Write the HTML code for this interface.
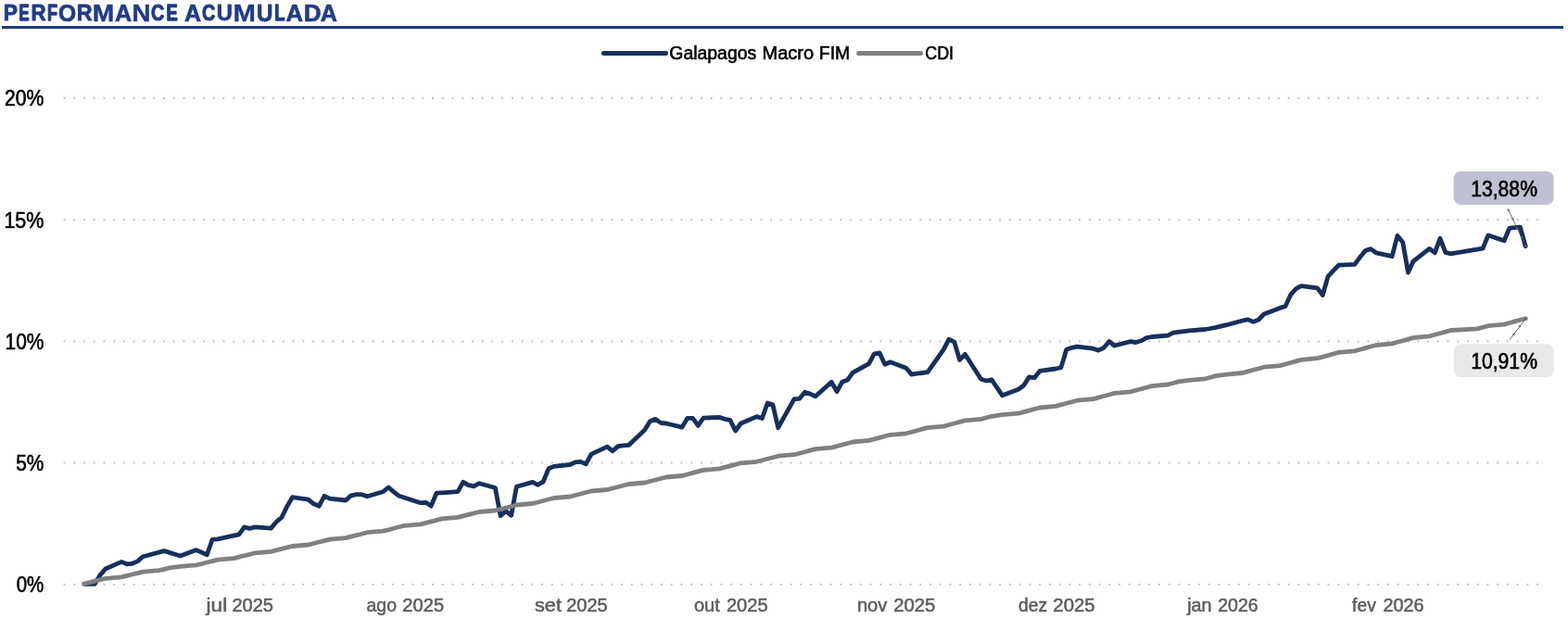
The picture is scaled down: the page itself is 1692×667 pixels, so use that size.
<!DOCTYPE html>
<html lang="pt-BR">
<head>
<meta charset="utf-8">
<title>PERFORMANCE ACUMULADA</title>
<style>
html,body{margin:0;padding:0;background:#fff;}
body{width:1692px;height:667px;overflow:hidden;}
svg{display:block;font-family:"Liberation Sans",sans-serif;}
</style>
</head>
<body>
<svg width="1692" height="667" viewBox="0 0 1692 667" role="img" aria-label="PERFORMANCE ACUMULADA - Galapagos Macro FIM, CDI">
<rect width="1692" height="667" fill="#fff"/>
<g id="title">
<text y="22.9" font-size="25.3" font-weight="bold" fill="#1f3c88" stroke="#1f3c88" stroke-linejoin="round" aria-label="PERFORMANCE ACUMULADA"><tspan x="3.77" y="22.45" font-size="24.72" stroke-width="0.89" textLength="15.24" lengthAdjust="spacingAndGlyphs">P</tspan><tspan x="20.51" y="22.25" font-size="24.13" stroke-width="1.30" textLength="11.08" lengthAdjust="spacingAndGlyphs">E</tspan><tspan x="33.48" y="22.43" font-size="24.65" stroke-width="0.94" textLength="16.07" lengthAdjust="spacingAndGlyphs">R</tspan><tspan x="50.92" y="22.25" font-size="24.13" stroke-width="1.30" textLength="11.02" lengthAdjust="spacingAndGlyphs">F</tspan><tspan x="62.90" y="22.53" font-size="24.95" stroke-width="0.74" textLength="19.12" lengthAdjust="spacingAndGlyphs">O</tspan><tspan x="82.76" y="22.48" font-size="24.79" stroke-width="0.85" textLength="16.86" lengthAdjust="spacingAndGlyphs">R</tspan><tspan x="99.74" y="22.69" font-size="25.42" stroke-width="0.41" textLength="23.51" lengthAdjust="spacingAndGlyphs">M</tspan><tspan x="124.05" y="22.56" font-size="25.03" stroke-width="0.68" textLength="18.19" lengthAdjust="spacingAndGlyphs">A</tspan><tspan x="142.40" y="22.67" font-size="25.35" stroke-width="0.46" textLength="20.00" lengthAdjust="spacingAndGlyphs">N</tspan><tspan x="162.97" y="22.31" font-size="24.31" stroke-width="1.17" textLength="14.22" lengthAdjust="spacingAndGlyphs">C</tspan><tspan x="179.40" y="22.25" font-size="24.14" stroke-width="1.29" textLength="12.24" lengthAdjust="spacingAndGlyphs">E</tspan> <tspan x="198.96" y="22.55" font-size="25.00" stroke-width="0.70" textLength="18.07" lengthAdjust="spacingAndGlyphs">A</tspan><tspan x="217.97" y="22.31" font-size="24.31" stroke-width="1.17" textLength="14.22" lengthAdjust="spacingAndGlyphs">C</tspan><tspan x="233.70" y="22.49" font-size="24.83" stroke-width="0.82" textLength="17.08" lengthAdjust="spacingAndGlyphs">U</tspan><tspan x="251.42" y="22.74" font-size="25.56" stroke-width="0.31" textLength="24.44" lengthAdjust="spacingAndGlyphs">M</tspan><tspan x="276.95" y="22.52" font-size="24.90" stroke-width="0.77" textLength="17.48" lengthAdjust="spacingAndGlyphs">U</tspan><tspan x="296.28" y="22.26" font-size="24.16" stroke-width="1.28" textLength="11.29" lengthAdjust="spacingAndGlyphs">L</tspan><tspan x="308.62" y="22.58" font-size="25.09" stroke-width="0.64" textLength="18.55" lengthAdjust="spacingAndGlyphs">A</tspan><tspan x="327.77" y="22.60" font-size="25.14" stroke-width="0.60" textLength="18.83" lengthAdjust="spacingAndGlyphs">D</tspan><tspan x="345.65" y="22.56" font-size="25.03" stroke-width="0.68" textLength="18.19" lengthAdjust="spacingAndGlyphs">A</tspan></text>
<rect x="2" y="28" width="1685" height="3" fill="#1d3a80"/>
</g>
<g id="legend">
<line x1="651.5" x2="718.5" y1="57.4" y2="57.4" stroke="#16305c" stroke-width="5" stroke-linecap="round"/>
<text y="63.8" font-size="20.5" fill="#000" stroke="#000" stroke-width="0.6" stroke-linejoin="round"><tspan x="722.35" textLength="93.86" lengthAdjust="spacingAndGlyphs">Galapagos</tspan> <tspan x="822.43" textLength="55.75" lengthAdjust="spacingAndGlyphs">Macro</tspan> <tspan x="883.79" textLength="33.40" lengthAdjust="spacingAndGlyphs">FIM</tspan></text>
<line x1="926.6" x2="993.5" y1="57.4" y2="57.4" stroke="#808080" stroke-width="5" stroke-linecap="round"/>
<text y="63.8" font-size="20.5" fill="#000" stroke="#000" stroke-width="0.6" stroke-linejoin="round"><tspan x="998.23" textLength="30.84" lengthAdjust="spacingAndGlyphs">CDI</tspan></text>
</g>
<g id="grid">
<line x1="69.57" x2="1659.6" y1="106.0" y2="106.0" stroke="#c2c2c2" stroke-width="2.3" stroke-linecap="round" stroke-dasharray="0.01 10.73"/>
<line x1="69.57" x2="1659.6" y1="237.2" y2="237.2" stroke="#c2c2c2" stroke-width="2.3" stroke-linecap="round" stroke-dasharray="0.01 10.73"/>
<line x1="69.57" x2="1659.6" y1="368.4" y2="368.4" stroke="#c2c2c2" stroke-width="2.3" stroke-linecap="round" stroke-dasharray="0.01 10.73"/>
<line x1="69.57" x2="1659.6" y1="499.6" y2="499.6" stroke="#c2c2c2" stroke-width="2.3" stroke-linecap="round" stroke-dasharray="0.01 10.73"/>
<line x1="69.57" x2="1659.6" y1="630.8" y2="630.8" stroke="#c2c2c2" stroke-width="2.3" stroke-linecap="round" stroke-dasharray="0.01 10.73"/>
</g>
<g id="yaxis">
<text y="114.05" font-size="23.0" fill="#000" stroke="#000" stroke-width="0.6" stroke-linejoin="round"><tspan x="4.99" textLength="42.40" lengthAdjust="spacingAndGlyphs">20%</tspan></text>
<text y="245.95" font-size="23.0" fill="#000" stroke="#000" stroke-width="0.6" stroke-linejoin="round"><tspan x="4.41" textLength="42.99" lengthAdjust="spacingAndGlyphs">15%</tspan></text>
<text y="377.0" font-size="23.0" fill="#000" stroke="#000" stroke-width="0.6" stroke-linejoin="round"><tspan x="5.56" textLength="41.83" lengthAdjust="spacingAndGlyphs">10%</tspan></text>
<text y="508.0" font-size="23.0" fill="#000" stroke="#000" stroke-width="0.6" stroke-linejoin="round"><tspan x="17.29" textLength="30.09" lengthAdjust="spacingAndGlyphs">5%</tspan></text>
<text y="639.0" font-size="23.0" fill="#000" stroke="#000" stroke-width="0.6" stroke-linejoin="round"><tspan x="17.69" textLength="29.68" lengthAdjust="spacingAndGlyphs">0%</tspan></text>
</g>
<g id="xaxis">
<text y="660.45" font-size="20.3" fill="#5e5d5b" stroke="#5e5d5b" stroke-width="0.55" stroke-linejoin="round"><tspan x="222.53" textLength="22.65" lengthAdjust="spacingAndGlyphs">jul</tspan> <tspan x="250.39" textLength="44.62" lengthAdjust="spacingAndGlyphs">2025</tspan></text>
<text y="660.45" font-size="20.3" fill="#5e5d5b" stroke="#5e5d5b" stroke-width="0.55" stroke-linejoin="round"><tspan x="395.51" textLength="32.47" lengthAdjust="spacingAndGlyphs">ago</tspan> <tspan x="434.28" textLength="44.83" lengthAdjust="spacingAndGlyphs">2025</tspan></text>
<text y="660.45" font-size="20.3" fill="#5e5d5b" stroke="#5e5d5b" stroke-width="0.55" stroke-linejoin="round"><tspan x="576.94" textLength="29.04" lengthAdjust="spacingAndGlyphs">set</tspan> <tspan x="611.19" textLength="44.51" lengthAdjust="spacingAndGlyphs">2025</tspan></text>
<text y="660.45" font-size="20.3" fill="#5e5d5b" stroke="#5e5d5b" stroke-width="0.55" stroke-linejoin="round"><tspan x="748.98" textLength="27.88" lengthAdjust="spacingAndGlyphs">out</tspan> <tspan x="783.88" textLength="44.83" lengthAdjust="spacingAndGlyphs">2025</tspan></text>
<text y="660.45" font-size="20.3" fill="#5e5d5b" stroke="#5e5d5b" stroke-width="0.55" stroke-linejoin="round"><tspan x="924.89" textLength="32.39" lengthAdjust="spacingAndGlyphs">nov</tspan> <tspan x="964.18" textLength="45.03" lengthAdjust="spacingAndGlyphs">2025</tspan></text>
<text y="660.45" font-size="20.3" fill="#5e5d5b" stroke="#5e5d5b" stroke-width="0.55" stroke-linejoin="round"><tspan x="1099.01" textLength="31.22" lengthAdjust="spacingAndGlyphs">dez</tspan> <tspan x="1136.37" textLength="45.24" lengthAdjust="spacingAndGlyphs">2025</tspan></text>
<text y="660.45" font-size="20.3" fill="#5e5d5b" stroke="#5e5d5b" stroke-width="0.55" stroke-linejoin="round"><tspan x="1281.16" textLength="26.42" lengthAdjust="spacingAndGlyphs">jan</tspan> <tspan x="1314.21" textLength="43.36" lengthAdjust="spacingAndGlyphs">2026</tspan></text>
<text y="660.45" font-size="20.3" fill="#5e5d5b" stroke="#5e5d5b" stroke-width="0.55" stroke-linejoin="round"><tspan x="1459.08" textLength="25.79" lengthAdjust="spacingAndGlyphs">fev</tspan> <tspan x="1492.40" textLength="44.20" lengthAdjust="spacingAndGlyphs">2026</tspan></text>
</g>
<g id="series" fill="none" stroke-linejoin="round" stroke-linecap="round">
<path d="M90.8,630.3 L102.3,630.3 L108.1,620.6 L113.8,614.0 L131.1,606.4 L136.9,608.8 L142.6,608.3 L148.4,605.9 L154.2,600.7 L177.2,594.6 L194.5,600.0 L211.8,593.6 L223.3,598.7 L229.1,582.3 L234.8,581.8 L257.9,576.9 L263.6,568.9 L269.4,570.3 L275.1,568.9 L292.4,570.1 L298.2,563.2 L303.9,558.5 L309.7,546.6 L315.5,536.7 L332.7,539.1 L338.5,543.8 L344.3,546.2 L350.0,535.3 L355.8,538.1 L373.1,540.0 L378.8,534.8 L384.6,533.7 L390.4,533.7 L396.1,535.7 L413.4,530.7 L419.2,526.0 L424.9,530.9 L430.7,535.3 L453.7,542.7 L459.5,542.3 L465.2,546.1 L471.0,532.2 L476.8,531.9 L494.0,530.7 L499.8,520.3 L505.6,523.6 L511.3,524.8 L517.1,521.7 L534.4,526.5 L540.1,556.7 L545.9,551.5 L551.7,556.3 L557.4,525.2 L574.7,520.4 L580.5,523.3 L586.2,519.9 L592.0,505.8 L597.7,503.4 L615.0,501.5 L620.8,498.9 L626.5,498.4 L632.3,500.8 L638.1,490.1 L655.3,482.1 L661.1,486.8 L666.9,481.6 L672.6,480.9 L678.4,480.4 L695.7,464.1 L701.4,454.7 L707.2,452.3 L713.0,456.4 L718.7,457.0 L736.0,461.1 L741.8,451.3 L747.5,451.3 L753.3,459.4 L759.0,451.1 L776.3,450.4 L782.1,452.3 L787.8,453.4 L793.6,465.0 L799.4,457.0 L816.6,449.6 L822.4,451.5 L828.2,435.0 L833.9,436.9 L839.7,461.7 L857.0,430.7 L862.7,430.3 L868.5,423.2 L874.3,425.1 L880.0,427.7 L897.3,412.3 L903.1,422.7 L908.8,412.2 L914.6,410.0 L920.3,402.2 L937.6,392.7 L943.4,381.8 L949.1,380.9 L954.9,393.2 L960.7,390.8 L977.9,397.2 L983.7,404.1 L989.5,403.1 L995.2,402.5 L1001.0,401.7 L1018.3,377.1 L1024.0,366.2 L1029.8,369.1 L1035.6,388.5 L1041.3,382.3 L1058.6,409.2 L1064.4,411.0 L1070.1,409.8 L1081.6,426.8 L1098.9,420.2 L1104.7,416.0 L1110.4,407.0 L1116.2,407.7 L1122.0,400.4 L1139.2,398.0 L1145.0,396.6 L1150.8,377.2 L1156.5,375.3 L1162.3,374.1 L1179.6,376.2 L1185.3,378.1 L1191.1,375.3 L1196.9,368.5 L1202.6,373.0 L1219.9,368.7 L1225.7,369.5 L1231.4,367.8 L1237.2,364.7 L1242.9,363.5 L1260.2,362.1 L1266.0,359.2 L1271.7,358.3 L1283.3,356.9 L1300.5,355.5 L1306.3,354.5 L1312.1,353.4 L1323.6,350.7 L1340.9,346.0 L1346.6,344.9 L1352.4,347.4 L1358.2,345.0 L1363.9,339.0 L1381.2,332.4 L1387.0,330.5 L1392.7,318.2 L1398.5,311.6 L1404.2,308.7 L1421.5,310.9 L1427.3,318.5 L1433.0,298.3 L1438.8,292.2 L1444.6,286.1 L1461.8,285.4 L1467.6,277.6 L1473.4,270.5 L1479.1,268.6 L1484.9,272.8 L1502.2,276.6 L1507.9,254.4 L1513.7,261.5 L1519.5,294.1 L1525.2,281.8 L1542.5,268.4 L1548.3,272.9 L1554.0,257.3 L1559.8,272.4 L1565.5,273.8 L1600.1,268.2 L1605.9,253.9 L1623.1,259.7 L1628.9,246.2 L1634.7,245.7 L1640.4,245.2 L1646.2,265.8" stroke="#16305c" stroke-width="4.8"/>
<path d="M90.8,630.0 L96.6,628.6 L102.3,627.2 L108.1,625.7 L113.8,624.3 L131.1,622.9 L136.9,621.4 L142.6,620.0 L148.4,618.6 L154.2,617.2 L171.4,615.7 L177.2,614.3 L183.0,612.9 L194.5,611.4 L211.8,609.9 L217.5,608.5 L223.3,607.0 L229.1,605.6 L234.8,604.1 L252.1,602.6 L257.9,601.2 L263.6,599.7 L269.4,598.3 L275.1,596.8 L292.4,595.3 L298.2,593.9 L303.9,592.4 L309.7,590.9 L315.5,589.5 L332.7,588.0 L338.5,586.5 L344.3,585.0 L350.0,583.6 L355.8,582.1 L373.1,580.6 L378.8,579.1 L384.6,577.7 L390.4,576.2 L396.1,574.7 L413.4,573.2 L419.2,571.8 L424.9,570.3 L430.7,568.8 L436.4,567.3 L453.7,565.8 L459.5,564.4 L465.2,562.9 L471.0,561.4 L476.8,559.9 L494.0,558.4 L499.8,556.9 L505.6,555.4 L511.3,554.0 L517.1,552.5 L534.4,551.0 L540.1,549.5 L545.9,548.0 L551.7,546.5 L557.4,545.0 L574.7,543.5 L580.5,542.0 L586.2,540.5 L592.0,539.0 L597.7,537.5 L615.0,536.0 L620.8,534.5 L626.5,533.0 L632.3,531.5 L638.1,530.0 L655.3,528.5 L661.1,527.0 L666.9,525.5 L672.6,524.0 L678.4,522.5 L695.7,521.0 L701.4,519.5 L707.2,518.0 L713.0,516.5 L718.7,515.0 L736.0,513.5 L741.8,512.0 L747.5,510.4 L753.3,508.9 L759.0,507.4 L776.3,505.9 L782.1,504.4 L787.8,502.9 L793.6,501.4 L799.4,499.8 L816.6,498.3 L822.4,496.8 L828.2,495.3 L833.9,493.8 L839.7,492.2 L857.0,490.7 L862.7,489.2 L868.5,487.7 L874.3,486.1 L880.0,484.6 L897.3,483.1 L903.1,481.6 L908.8,480.0 L914.6,478.5 L920.3,477.0 L937.6,475.4 L943.4,473.9 L949.1,472.4 L954.9,470.8 L960.7,469.3 L977.9,467.8 L983.7,466.2 L989.5,464.7 L995.2,463.1 L1001.0,461.6 L1018.3,460.1 L1024.0,458.5 L1029.8,457.0 L1035.6,455.4 L1041.3,453.9 L1058.6,452.4 L1064.4,450.8 L1070.1,449.3 L1081.6,447.7 L1098.9,446.2 L1104.7,444.6 L1110.4,443.1 L1116.2,441.5 L1122.0,440.0 L1139.2,438.4 L1145.0,436.9 L1150.8,435.3 L1156.5,433.8 L1162.3,432.2 L1179.6,430.6 L1185.3,429.1 L1191.1,427.5 L1196.9,426.0 L1202.6,424.4 L1219.9,422.9 L1225.7,421.3 L1231.4,419.7 L1237.2,418.2 L1242.9,416.6 L1260.2,415.0 L1266.0,413.5 L1271.7,411.9 L1283.3,410.3 L1300.5,408.8 L1306.3,407.2 L1312.1,405.6 L1323.6,404.1 L1340.9,402.5 L1346.6,400.9 L1352.4,399.3 L1358.2,397.8 L1363.9,396.2 L1381.2,394.6 L1387.0,393.0 L1392.7,391.5 L1398.5,389.9 L1404.2,388.3 L1421.5,386.7 L1427.3,385.1 L1433.0,383.6 L1438.8,382.0 L1444.6,380.4 L1461.8,378.8 L1467.6,377.2 L1473.4,375.6 L1479.1,374.0 L1484.9,372.5 L1502.2,370.9 L1507.9,369.3 L1513.7,367.7 L1519.5,366.1 L1525.2,364.5 L1542.5,362.9 L1548.3,361.3 L1554.0,359.7 L1559.8,358.1 L1565.5,356.5 L1594.3,354.9 L1600.1,353.3 L1605.9,351.7 L1623.1,350.1 L1628.9,348.5 L1634.7,346.9 L1640.4,345.3 L1646.2,343.7" stroke="#808080" stroke-width="4.8"/>
</g>
<g id="labels">
<rect x="1568.6" y="185" width="108" height="36" rx="7.5" fill="#bfc0d0"/>
<text y="211.65" font-size="23.0" fill="#000" stroke="#000" stroke-width="0.6" stroke-linejoin="round"><tspan x="1587.13" textLength="71.86" lengthAdjust="spacingAndGlyphs">13,88%</tspan></text>
<line x1="1627.65" y1="226.7" x2="1646.3" y2="265.6" stroke="#4a4a4a" stroke-width="0.9" stroke-opacity="0.9"/><rect x="1626.6" y="225.6" width="2.1" height="2.1" fill="#6a6964"/><rect x="1631.3" y="235.4" width="2.1" height="2.1" fill="#6a6964"/><rect x="1636.0" y="245.2" width="2.1" height="2.1" fill="#6a6964"/><rect x="1640.7" y="255.0" width="2.1" height="2.1" fill="#6a6964"/><rect x="1645.4" y="264.8" width="2.1" height="2.1" fill="#6a6964"/>
<rect x="1568.6" y="371.2" width="108" height="35.9" rx="7.5" fill="#e9e9e9"/>
<text y="397.65" font-size="23.0" fill="#000" stroke="#000" stroke-width="0.6" stroke-linejoin="round"><tspan x="1587.13" textLength="71.86" lengthAdjust="spacingAndGlyphs">10,91%</tspan></text>
<line x1="1646.4" y1="343.5" x2="1629.0" y2="366.9" stroke="#4a4a4a" stroke-width="0.9" stroke-opacity="0.9"/><rect x="1645.4" y="342.4" width="2.1" height="2.1" fill="#6a6964"/><rect x="1638.9" y="351.2" width="2.1" height="2.1" fill="#6a6964"/><rect x="1632.4" y="359.9" width="2.1" height="2.1" fill="#6a6964"/>
</g>
</svg>
</body>
</html>
